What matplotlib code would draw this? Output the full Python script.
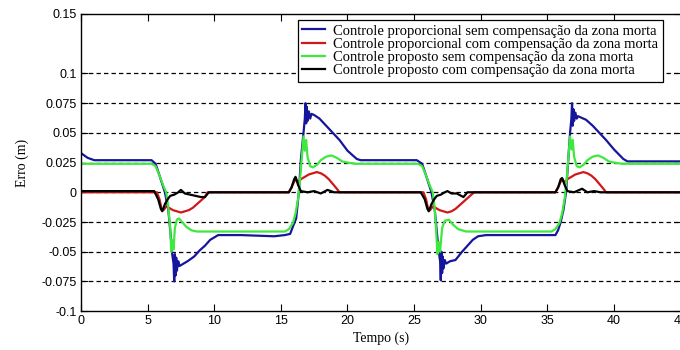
import matplotlib
matplotlib.use("Agg")
import matplotlib.pyplot as plt

# curves (time in s, error in m)
t_blue = [0.0, 0.5, 1.0, 5.3, 5.6, 5.9, 6.3, 6.55, 6.7, 6.85,
          6.95, 7.0, 7.05, 7.1, 7.15, 7.2, 7.3, 7.4, 7.7, 8.0,
          8.5, 8.9, 9.3, 9.7, 10.3, 12.0, 14.5, 15.3, 15.7, 15.9,
          16.15, 16.35, 16.5, 16.7, 16.8, 16.85, 16.9, 16.95, 17.0, 17.1,
          17.2, 17.3, 17.5, 17.9, 18.4, 18.9, 19.4, 20.0, 20.7, 21.0,
          25.2, 25.6, 25.9, 26.3, 26.55, 26.7, 26.85, 26.95, 27.0, 27.05,
          27.1, 27.15, 27.2, 27.3, 27.4, 27.7, 28.1, 28.6, 29.0, 29.4,
          29.8, 30.4, 32.0, 35.6, 35.8, 36.0, 36.2, 36.4, 36.55, 36.7,
          36.8, 36.85, 36.9, 36.95, 37.0, 37.1, 37.2, 37.3, 37.5, 37.9,
          38.4, 38.9, 39.4, 40.0, 40.7, 41.0, 45.0]
e_blue = [0.033, 0.029, 0.027, 0.027, 0.024, 0.014, 0.0, -0.014, -0.032, -0.052,
          -0.06, -0.075, -0.052, -0.07, -0.055, -0.066, -0.058, -0.062, -0.06, -0.058,
          -0.054, -0.049, -0.045, -0.040, -0.036, -0.036, -0.037, -0.036, -0.035, -0.029,
          -0.022, 0.0, 0.027, 0.05, 0.062, 0.075, 0.058, 0.072, 0.06, 0.068,
          0.062, 0.066, 0.065, 0.062, 0.056, 0.050, 0.044, 0.035, 0.028, 0.027,
          0.027, 0.024, 0.014, 0.0, -0.015, -0.033, -0.05, -0.058, -0.074, -0.05,
          -0.068, -0.054, -0.064, -0.057, -0.06, -0.058, -0.057, -0.05, -0.045, -0.040,
          -0.037, -0.036, -0.036, -0.036, -0.032, -0.025, -0.015, 0.0, 0.025, 0.05,
          0.062, 0.075, 0.056, 0.07, 0.06, 0.067, 0.062, 0.064, 0.063, 0.061,
          0.056, 0.05, 0.044, 0.036, 0.028, 0.026, 0.026]

t_red = [0.0, 5.7, 5.9, 6.05, 6.2, 6.4, 6.6, 6.9, 7.2, 7.5,
         7.8, 8.1, 8.4, 8.7, 9.0, 9.3, 9.5, 15.6, 15.8, 16.0,
         16.15, 16.3, 16.5, 16.8, 17.1, 17.4, 17.7, 18.0, 18.3, 18.6,
         18.9, 19.2, 19.4,
         25.7, 25.9, 26.05, 26.2, 26.4, 26.6, 26.9, 27.2, 27.5, 27.8,
         28.1, 28.4, 28.7, 29.0, 29.3, 29.5, 35.6, 35.8, 36.0, 36.15,
         36.3, 36.5, 36.8, 37.1, 37.4, 37.7, 38.0, 38.3, 38.6, 38.9,
         39.2, 39.4, 45.0]
e_red = [0.0, 0.0, -0.006, -0.014, -0.015, -0.012, -0.013, -0.015, -0.016, -0.017,
         -0.016, -0.015, -0.013, -0.010, -0.007, -0.004, 0.0, 0.0, 0.004, 0.009,
         0.011, 0.008, 0.011, 0.013, 0.015, 0.016, 0.017, 0.016, 0.014, 0.011,
         0.007, 0.003, 0.0,
         0.0, -0.006, -0.014, -0.015, -0.012, -0.013, -0.015, -0.016, -0.017, -0.016,
         -0.014, -0.011, -0.008, -0.005, -0.002, 0.0, 0.0, 0.004, 0.009, 0.011,
         0.008, 0.011, 0.013, 0.015, 0.016, 0.017, 0.016, 0.014, 0.011, 0.007,
         0.003, 0.0, 0.0]

t_green = [0.0, 5.3, 5.6, 5.9, 6.2, 6.4, 6.55, 6.7, 6.78, 6.85,
           6.95, 7.05, 7.2, 7.35, 7.6, 7.9, 8.3, 8.7, 9.2, 9.8,
           15.3, 15.6, 15.9, 16.1, 16.3, 16.45, 16.6, 16.7, 16.8, 16.9,
           17.0, 17.2, 17.4, 17.7, 18.0, 18.4, 18.8, 19.2, 19.6, 20.0,
           20.6,
           25.3, 25.6, 25.9, 26.2, 26.4, 26.55, 26.65, 26.75, 26.85, 26.95,
           27.1, 27.3, 27.6, 27.9, 28.3, 28.9, 29.5, 35.3, 35.6, 35.9,
           36.1, 36.3, 36.45, 36.6, 36.7, 36.8, 36.9, 37.0, 37.2, 37.4,
           37.7, 38.0, 38.4, 38.8, 39.2, 39.6, 40.0, 40.6, 45.0]
e_green = [0.024, 0.024, 0.022, 0.014, 0.005, 0.0, -0.012, -0.03, -0.05, -0.04,
           -0.048, -0.03, -0.023, -0.022, -0.025, -0.029, -0.032, -0.033, -0.033, -0.033,
           -0.033, -0.031, -0.026, -0.018, -0.005, 0.012, 0.033, 0.047, 0.035, 0.044,
           0.03, 0.022, 0.021, 0.023, 0.027, 0.030, 0.031, 0.029, 0.026, 0.025,
           0.024,
           0.024, 0.022, 0.014, 0.005, 0.0, -0.014, -0.032, -0.052, -0.042, -0.05,
           -0.03, -0.024, -0.023, -0.027, -0.031, -0.033, -0.033, -0.033, -0.031, -0.026,
           -0.018, -0.005, 0.012, 0.033, 0.047, 0.036, 0.044, 0.03, 0.022, 0.021,
           0.023, 0.027, 0.030, 0.031, 0.029, 0.026, 0.025, 0.024, 0.024]

t_black = [0.0, 5.5, 5.8, 6.0, 6.1, 6.3, 6.5, 6.7, 7.0, 7.3,
           7.5, 7.8, 8.2, 8.6, 9.0, 9.3, 9.6, 15.6, 15.8, 16.0,
           16.1, 16.3, 16.5, 17.0, 17.5, 18.0, 18.5, 19.0, 19.5,
           25.5, 25.8, 26.0, 26.1, 26.3, 26.5, 26.7, 27.0, 27.3, 27.5,
           27.8, 28.2, 28.7, 29.0, 29.6, 35.6, 35.8, 36.0, 36.1, 36.3,
           36.5, 37.0, 37.6, 38.0, 38.5, 39.0, 45.0]
e_black = [0.001, 0.001, -0.006, -0.014, -0.016, -0.01, -0.006, -0.003, -0.002, 0.0,
           0.002, -0.001, -0.002, -0.003, -0.004, -0.004, 0.0, 0.0, 0.004, 0.011,
           0.013, 0.006, 0.001, 0.0, 0.001, -0.001, 0.002, 0.0, 0.0,
           0.0, -0.006, -0.014, -0.016, -0.01, -0.006, -0.003, -0.002, 0.0, 0.001,
           -0.001, -0.001, -0.004, 0.0, 0.0, 0.0, 0.004, 0.011, 0.012, 0.006,
           0.001, 0.0, 0.003, 0.0, 0.001, 0.0, 0.0]

labels = [
    "Controle proporcional sem compensação da zona morta",
    "Controle proporcional com compensação da zona morta",
    "Controle proposto sem compensação da zona morta",
    "Controle proposto com compensação da zona morta",
]
colors = ["#16169c", "#d01818", "#3ee83e", "black"]

y_ticks = [-0.1, -0.075, -0.05, -0.025, 0, 0.025, 0.05, 0.075, 0.1, 0.15]
y_ticklabels = ["-0.1", "-0.075", "-0.05", "-0.025", "0", "0.025", "0.05",
                "0.075", "0.1", "0.15"]
x_ticks = list(range(0, 50, 5))

fig = plt.figure(figsize=(6.8, 3.5), dpi=100)
ax = fig.add_axes([0.119, 0.111, 0.882, 0.849])

series = [(t_blue, e_blue), (t_red, e_red), (t_green, e_green), (t_black, e_black)]
for (t, e), c, lab in zip(series, colors, labels):
    ax.plot(t, e, color=c, linewidth=1.6, label=lab)

ax.set_xlim(0, 45)
ax.set_ylim(-0.1, 0.15)
ax.set_xticks(x_ticks)
ax.set_yticks(y_ticks)
ax.set_yticklabels(y_ticklabels)
ax.tick_params(direction="in", top=True, right=True, length=5, width=0.8,
               labelsize=9, pad=3)
for lbl in ax.get_xticklabels() + ax.get_yticklabels():
    lbl.set_family("Liberation Sans")

# horizontal dashed grid only (between the two limits)
for yv in y_ticks[1:-1]:
    ax.axhline(yv, color="black", linewidth=0.9, dashes=(3.5, 2.5), zorder=0.5)

for s in ax.spines.values():
    s.set_linewidth(1.0)

ax.set_xlabel("Tempo (s)", family="Liberation Serif", fontsize=10, labelpad=3)
ax.set_ylabel("Erro (m)", family="Liberation Serif", fontsize=10, labelpad=9)

leg = ax.legend(loc="upper right", bbox_to_anchor=(0.97, 0.98), borderaxespad=0,
                prop={"family": "Liberation Serif", "size": 10.5},
                frameon=True, fancybox=False, edgecolor="black", framealpha=1,
                labelspacing=0.0, handlelength=1.6, handletextpad=0.55,
                borderpad=0.3)
leg.get_frame().set_linewidth(0.9)

fig.savefig("out.png", dpi=100)
